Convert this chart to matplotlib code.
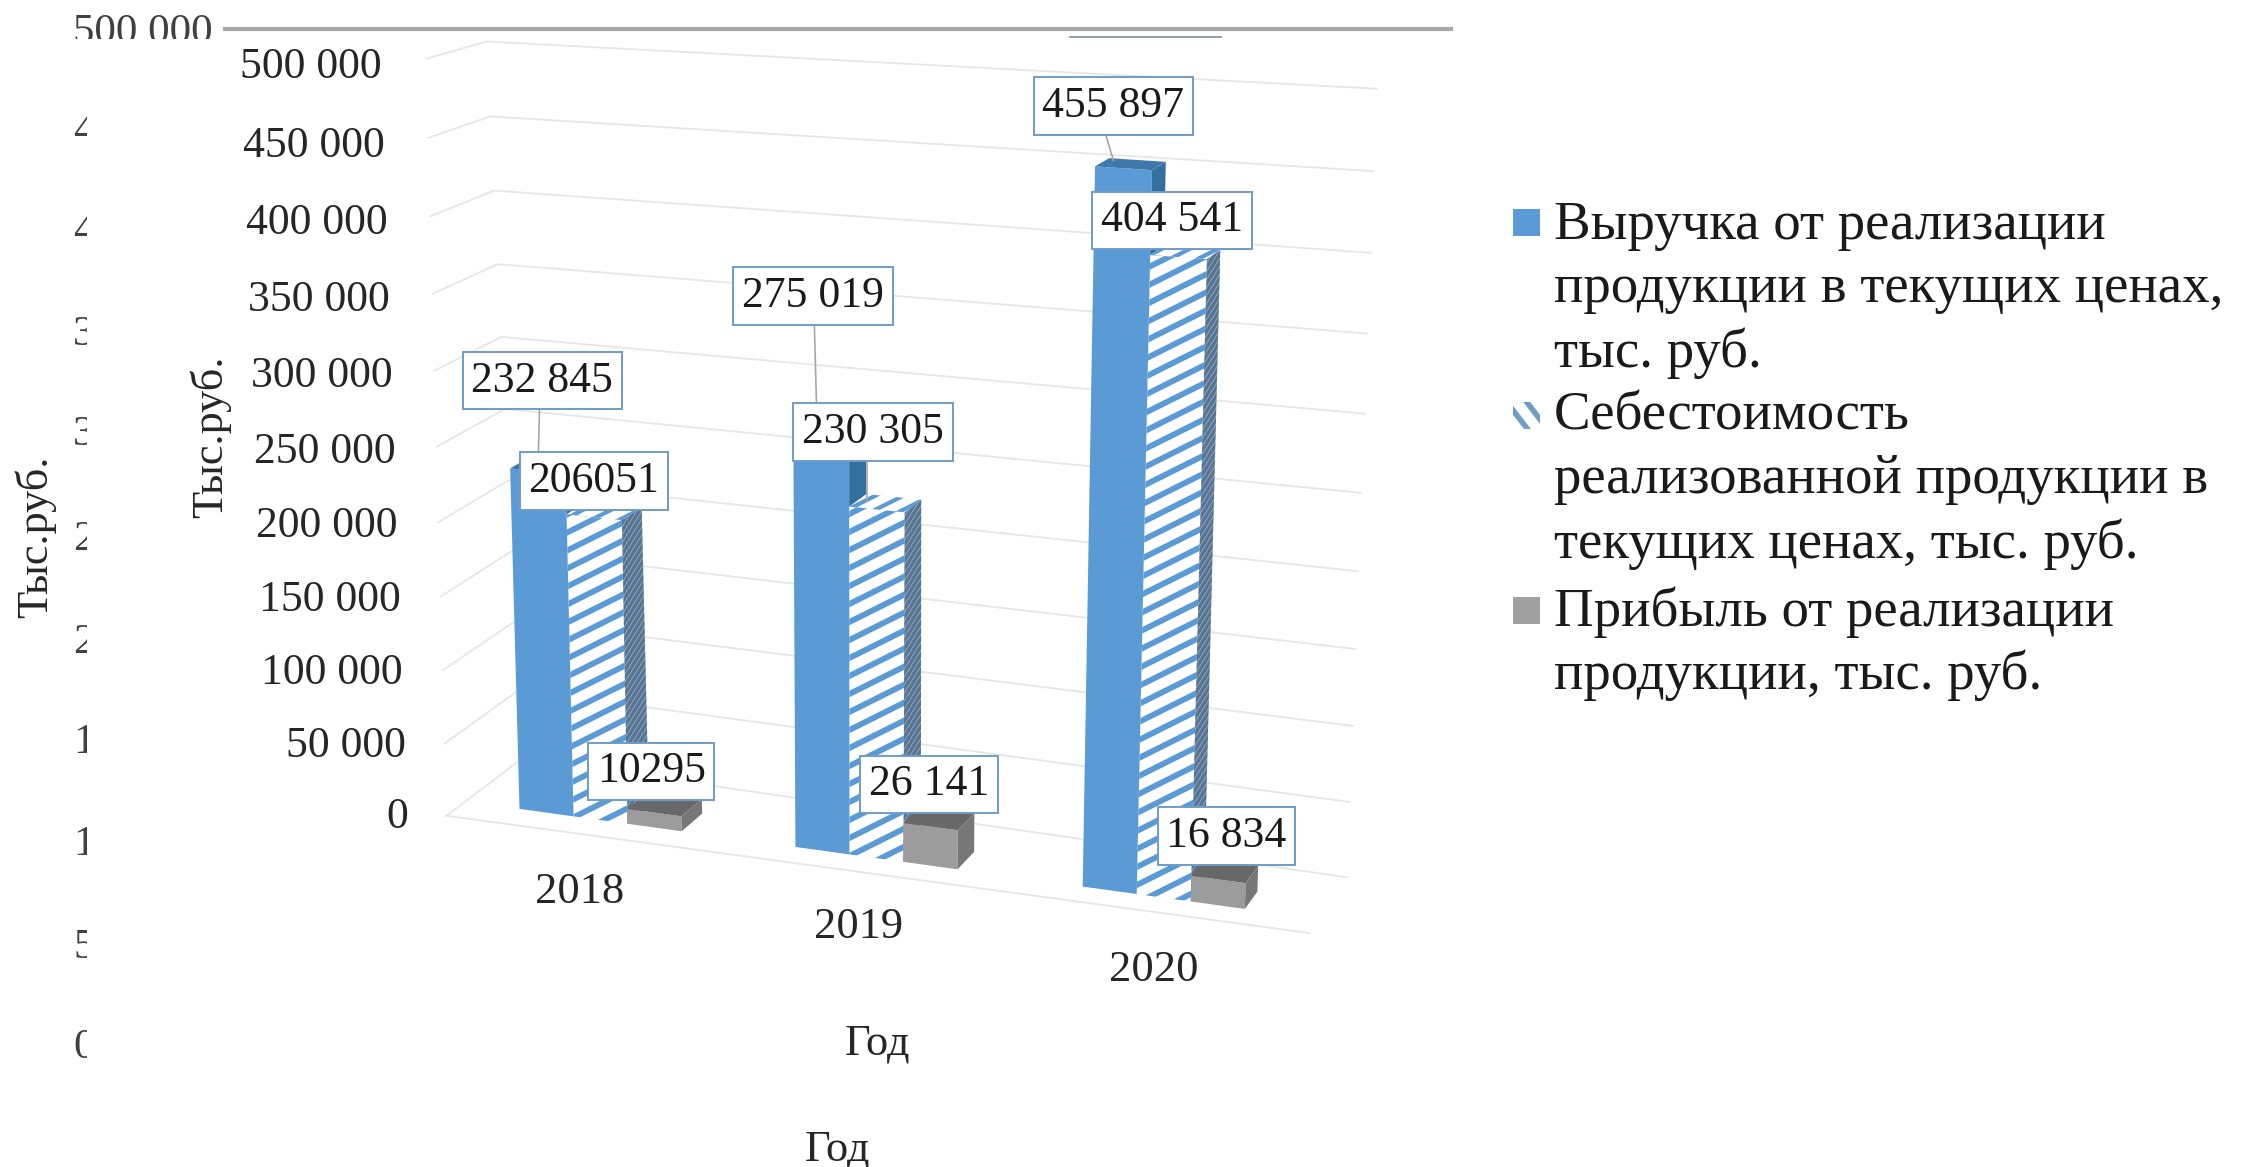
import matplotlib
matplotlib.use("Agg")
import matplotlib.pyplot as plt
import numpy as np
from matplotlib.patches import Polygon, Rectangle
from matplotlib.transforms import Bbox, IdentityTransform, Transform

plt.rcParams['font.family'] = ['Liberation Serif', 'DejaVu Serif']

years = ['2018', '2019', '2020']
revenue = [232845, 275019, 455897]
cost = [206051, 230305, 404541]
profit = [10295, 26141, 16834]
revenue_labels = ['232 845', '275 019', '455 897']
cost_labels = ['206051', '230 305', '404 541']
profit_labels = ['10295', '26 141', '16 834']
y_ticks = [0, 50000, 100000, 150000, 200000, 250000, 300000, 350000, 400000, 450000, 500000]
y_tick_labels = ['0', '50 000', '100 000', '150 000', '200 000', '250 000',
                 '300 000', '350 000', '400 000', '450 000', '500 000']
legend_lines = [['Выручка от реализации', 'продукции в текущих ценах,', 'тыс. руб.'],
                ['Себестоимость', 'реализованной продукции в', 'текущих ценах, тыс. руб.'],
                ['Прибыль от реализации', 'продукции, тыс. руб.']]

W, H = 2244, 1167
S = W / 1568
YMAX = 500000

BLUE = '#5b9bd5'
GRAY = '#a0a0a0'
GRID = '#e6e6e6'
TEXT = '#262626'
BOX_EDGE = '#6f9dc6'

# corners of the 3D plot box: [depth][value][category]
FRONT = np.array([[[312, 570], [915, 652]], [[298, 41], [934, 80]]], dtype=float)
BACK = np.array([[[365, 530], [941, 613]], [[340, 29], [962, 62]]], dtype=float)
VALUE_BEND = 0.05  # the value axis is a little compressed low down (perspective)


def px(x, y):
    return x * S, H - y * S


def project(u, depth, value):
    """Map category position, depth (0 front, 1 back) and value to display pixels."""
    u = np.asarray(u, dtype=float) / 3
    v = np.asarray(value, dtype=float) / YMAX
    v = v - VALUE_BEND * v * (1 - v)
    depth = np.asarray(depth, dtype=float)
    out = []
    for k in range(2):
        f = (FRONT[0, 0, k] * (1 - u) + FRONT[0, 1, k] * u) * (1 - v) + (FRONT[1, 0, k] * (1 - u) + FRONT[1, 1, k] * u) * v
        b = (BACK[0, 0, k] * (1 - u) + BACK[0, 1, k] * u) * (1 - v) + (BACK[1, 0, k] * (1 - u) + BACK[1, 1, k] * u) * v
        out.append(f * (1 - depth) + b * depth)
    return np.column_stack([out[0] * S, H - out[1] * S])


class WallTransform(Transform):
    """Data (category, value) to pixels on a plane of constant depth."""
    input_dims = 2
    output_dims = 2
    is_separable = False
    has_inverse = False

    def __init__(self, plane):
        super().__init__()
        self.plane = plane

    def transform_non_affine(self, values):
        values = np.asarray(values, dtype=float)
        return project(values[:, 0], self.plane, values[:, 1])


fig = plt.figure(figsize=(W / 100, H / 100), dpi=100, facecolor='white')
ax = fig.add_axes([0, 0, 1, 1])
ax.set_xlim(0, 3)
ax.set_ylim(0, YMAX)
ax.axis('off')

identity = IdentityTransform()
front_wall = WallTransform(0)

# old chart peeking out from underneath, only the first digit shows past the paste edge
for i, lab in enumerate(y_tick_labels[::-1]):
    yy = [23, 92, 162, 234, 304, 377, 449, 519, 590, 662, 732][i]
    if i == 0:
        t = ax.text(*px(51, yy), lab, transform=identity, fontsize=31, color='#404040', ha='left', va='center')
        clip = Bbox([px(40, 27), px(160, 0)])
    else:
        t = ax.text(*px(51, yy), lab[0], transform=identity, fontsize=31, color='#404040', ha='left', va='center')
        clip = Bbox([px(40, yy + 30), px(60.5, yy - 30)])
    t.set_clip_box(clip)
    t.set_clip_on(True)
ax.plot(*zip(px(157, 20), px(1014, 20)), transform=identity, color='#a8a8a8', lw=3)
ax.plot(*zip(px(748, 26), px(853, 26)), transform=identity, color='#7d8b99', lw=1.2)
ax.text(*px(25, 375), 'Тыс.руб.', transform=identity, fontsize=32, color=TEXT, rotation=90, ha='center', va='center')
ax.text(*px(585, 803), 'Год', transform=identity, fontsize=32, color=TEXT, ha='center', va='center')

# gridlines
for v in y_ticks:
    pts = project([0, 0, 3], [0, 1, 1], [v, v, v])
    ax.plot(pts[:, 0], pts[:, 1], transform=identity, color=GRID, lw=1.3, zorder=1)
pts = project([0, 3], [0, 0], [0, 0])
ax.plot(pts[:, 0], pts[:, 1], transform=identity, color=GRID, lw=1.3, zorder=1)

for v, lab in zip(y_ticks, y_tick_labels):
    frac = v / YMAX
    ax.annotate(lab, xy=(0, v), xycoords=front_wall,
                xytext=((-27 - 4 * frac) * S, (-1 - 5 * frac) * S), textcoords='offset pixels',
                fontsize=31.5, color=TEXT, ha='right', va='center')


def stripes(face, color, step, slope, lw, zorder):
    """Diagonal fill, drawn as lines clipped to the face."""
    verts = face.get_transform().transform(face.get_path().vertices)
    x0, x1 = verts[:, 0].min() - 5, verts[:, 0].max() + 5
    lo = verts[:, 1].min() - max(slope * x0, slope * x1) - step
    hi = verts[:, 1].max() - min(slope * x0, slope * x1) + step
    for c in np.arange(lo, hi, step):
        ln, = ax.plot([x0, x1], [c + slope * x0, c + slope * x1], transform=identity,
                      color=color, lw=lw, zorder=zorder, solid_capstyle='butt')
        ln.set_clip_path(face.get_path(), face.get_transform())


def box(u0, width, value, d0, d1, front_col, side_col, top_col, zorder, hatched=False):
    u1 = u0 + width
    front = ax.bar(u0, value, width, align='edge', color=front_col, lw=0,
                   transform=WallTransform(d0), zorder=zorder)[0]
    side = Polygon(project([u1, u1, u1, u1], [d0, d1, d1, d0], [0, 0, value, value]),
                   closed=True, transform=identity, fc=side_col, lw=0, zorder=zorder)
    top = Polygon(project([u0, u1, u1, u0], [d0, d0, d1, d1], [value, value, value, value]),
                  closed=True, transform=identity, fc=top_col, lw=0, zorder=zorder)
    ax.add_patch(side)
    ax.add_patch(top)
    if hatched:
        stripes(front, BLUE, 18, 0.5, 4.2, zorder)
        stripes(side, '#587694', 8, 1.6, 2.6, zorder)
        stripes(top, BLUE, 14, 0.5, 3, zorder)


D0, D1 = 0.25, 0.56
BAR_W = 0.19
GROUP_SHIFT = [0.19, 0.16, 0.17]
for i in range(3):
    base = i + GROUP_SHIFT[i]
    z = 3 + i
    box(base, BAR_W, revenue[i], D0, D1, BLUE, '#34709f', '#3f78ab', z)
    box(base + BAR_W, BAR_W, cost[i], D0, D1, 'white', '#a9bccd', 'white', z, hatched=True)
    box(base + 2 * BAR_W, BAR_W, profit[i], D0, D1, '#9c9c9c', '#777777', '#686868', z)

# category labels and axis titles
for lab, (x, y) in zip(years, [(405, 623), (600, 648), (806, 678)]):
    ax.text(*px(x, y), lab, transform=identity, fontsize=32, color=TEXT, ha='center', va='center', zorder=10)
ax.text(*px(613, 729), 'Год', transform=identity, fontsize=32, color=TEXT, ha='center', va='center')
ax.text(*px(147, 305), 'Тыс.руб.', transform=identity, fontsize=32, color=TEXT, rotation=90, ha='center', va='center')

# leader lines then data labels
leaders = [((377, 285), (376, 325)), ((569, 226), (571, 300)), ((606, 320), (606, 350)), ((772, 92), (778, 112))]
for a, b in leaders:
    ax.plot(*zip(px(*a), px(*b)), transform=identity, color='#a6a6a6', lw=1.2, zorder=9)

label_text = revenue_labels + cost_labels + profit_labels
label_xy = [(379, 266), (568, 207), (778, 74),
            (415, 336), (610, 302), (819, 154),
            (455, 539), (649, 548), (857, 584)]
for lab, (x, y) in zip(label_text, label_xy):
    ax.text(*px(x, y), lab, transform=identity, fontsize=31.5, color='#1a1a1a', ha='center', va='center', zorder=11,
            bbox=dict(boxstyle='square,pad=0.2', fc='white', ec=BOX_EDGE, lw=1.4))

# legend
line_y = [[158, 202, 247], [291, 335, 380], [428, 472]]
for lines, ys in zip(legend_lines, line_y):
    for line, y in zip(lines, ys):
        ax.text(*px(1086, y), line, transform=identity, fontsize=39.5, color='#1a1a1a', ha='left', va='center')

for y, col in [(155, BLUE), (426, GRAY)]:
    ax.add_patch(Rectangle(px(1057, y + 10), 19 * S, 19 * S, transform=identity, fc=col, lw=0))
marker = Rectangle(px(1057, 300), 19 * S, 19 * S, transform=identity, fc='white', lw=0)
ax.add_patch(marker)
stripes(marker, '#6f9dc6', 26, -1.3, 4, 3)

fig.savefig('out.png', dpi=100)
